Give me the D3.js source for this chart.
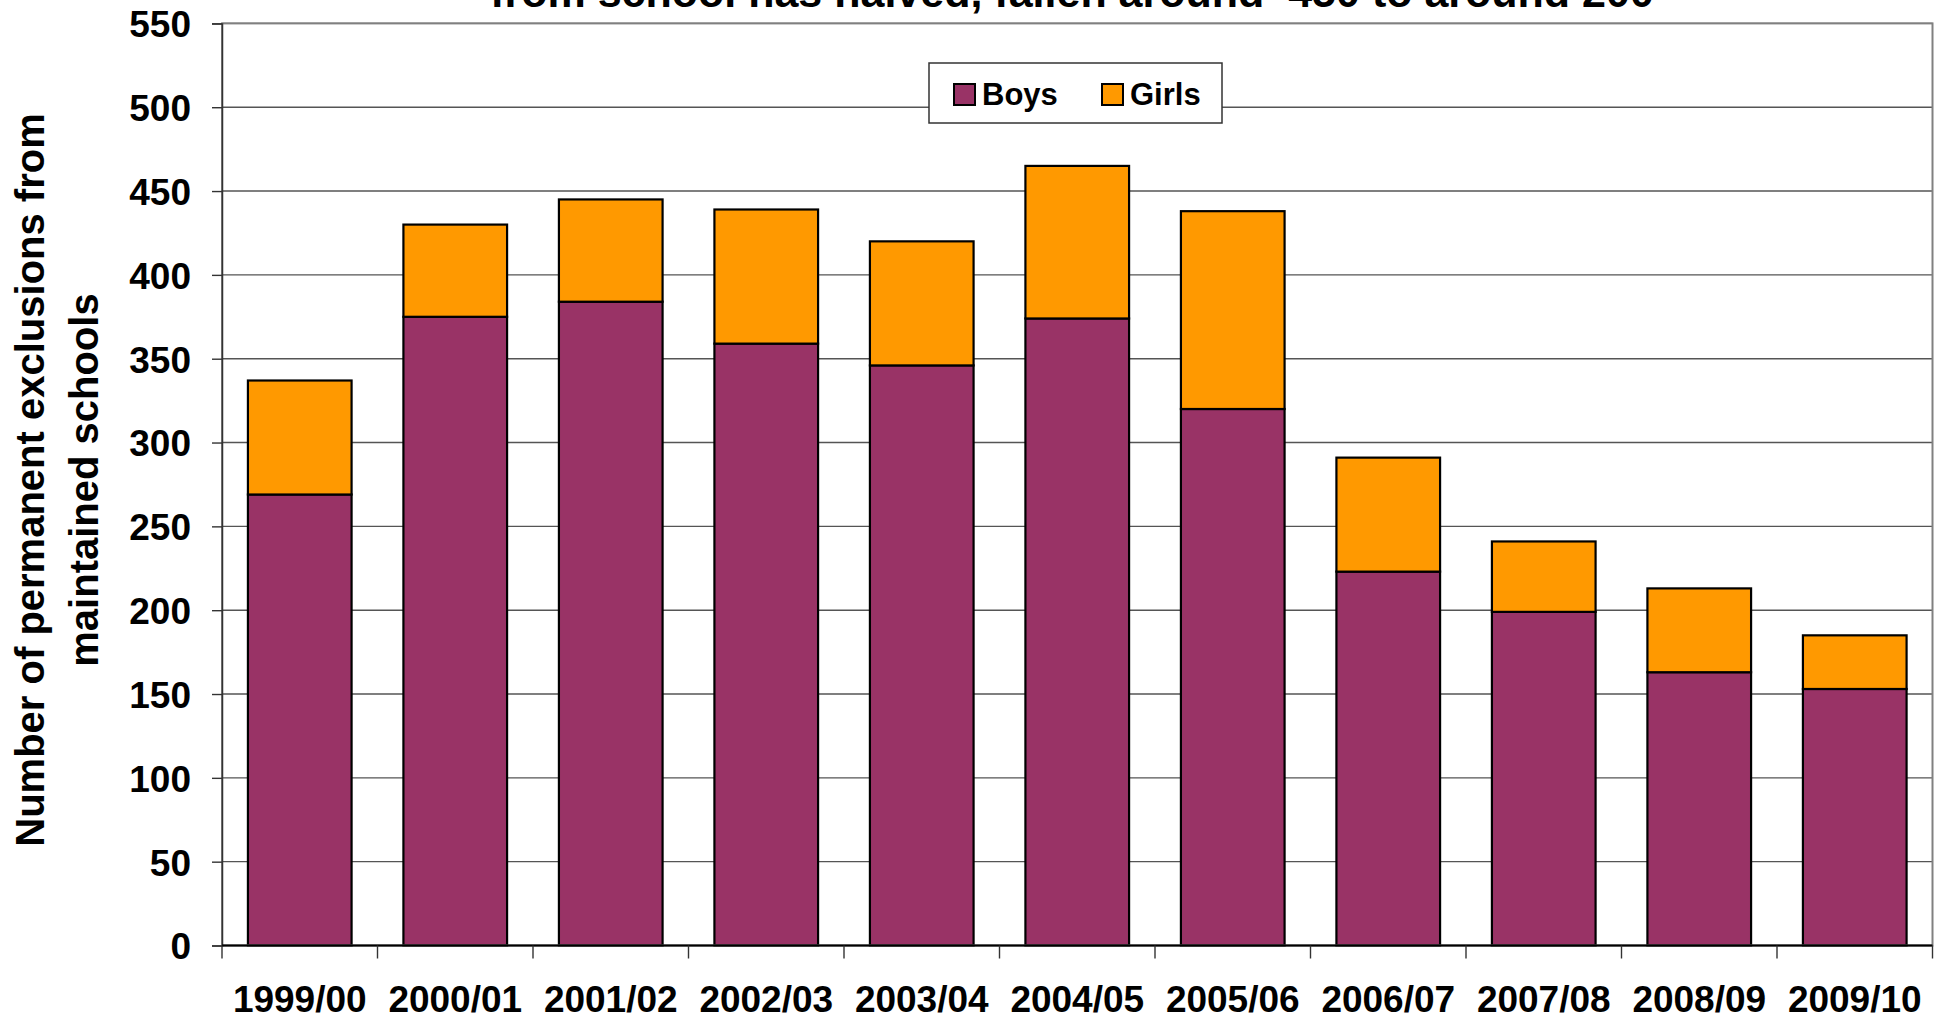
<!DOCTYPE html>
<html>
<head>
<meta charset="utf-8">
<script src="https://cdn.jsdelivr.net/npm/d3@7"></script>
<style>
  body { margin: 0; background: #fff; }
  svg text { font-family: "Liberation Sans", Arial, sans-serif; font-weight: bold; fill: #000; }
</style>
</head>
<body>
<div id="chart-area"></div>
<script>
var years = ["1999/00", "2000/01", "2001/02", "2002/03", "2003/04", "2004/05", "2005/06", "2006/07", "2007/08", "2008/09", "2009/10"]
var boys = [269, 375, 384, 359, 346, 374, 320, 223, 199, 163, 153]
var girls = [68, 55, 61, 80, 74, 91, 118, 68, 42, 50, 32]
var yTicks = [0, 50, 100, 150, 200, 250, 300, 350, 400, 450, 500, 550]
var seriesNames = ["Boys", "Girls"]
var seriesColors = ["#993366", "#FF9900"]

var canvasWidth = 1935
var canvasHeight = 1021
var margin = {top: 23.4, bottom: 75.5, left: 222, right: 2.5}

var svg = d3.select("#chart-area")
	.append("svg")
	.attr("width", canvasWidth)
	.attr("height", canvasHeight)

var x = d3.scaleBand()
	.domain(years)
	.range([margin.left, canvasWidth - margin.right])
	.paddingInner(1/3)
	.paddingOuter(1/6)

var y = d3.scaleLinear()
	.domain([0, 550])
	.range([canvasHeight - margin.bottom, margin.top])

var table = years.map(function(d, i){
	return {year: d, Boys: boys[i], Girls: girls[i]}
})
var stacked = d3.stack().keys(seriesNames)(table)

// title, only its lower part is inside the picture
svg.append("text")
	.attr("x", 1072)
	.attr("y", 7)
	.attr("text-anchor", "middle")
	.attr("font-size", "43px")
	.text("from school has halved, fallen around  450 to around 200")
	.attr("xml:space", "preserve")
	.style("white-space", "pre")

// gridlines
svg.append("g")
	.selectAll("line")
	.data(yTicks)
	.enter().append("line")
		.attr("x1", margin.left)
		.attr("x2", canvasWidth - margin.right)
		.attr("y1", function(d){ return y(d) })
		.attr("y2", function(d){ return y(d) })
		.attr("stroke", "#555")
		.attr("stroke-width", 1.4)

// bars
svg.append("g")
	.selectAll("g")
	.data(stacked)
	.enter().append("g")
		.attr("fill", function(d, i){ return seriesColors[i] })
	.selectAll("rect")
	.data(function(d){ return d })
	.enter().append("rect")
		.attr("x", function(d){ return x(d.data.year) })
		.attr("width", x.bandwidth())
		.attr("y", function(d){ return y(d[1]) })
		.attr("height", function(d){ return y(d[0]) - y(d[1]) })
		.attr("stroke", "#000")
		.attr("stroke-width", 2.2)

// plot area border
svg.append("rect")
	.attr("x", margin.left)
	.attr("y", margin.top)
	.attr("width", canvasWidth - margin.right - margin.left)
	.attr("height", y(0) - margin.top)
	.attr("fill", "none")
	.attr("stroke", "#808080")
	.attr("stroke-width", 2)

// y axis
var yAxis = d3.axisLeft(y)
	.tickValues(yTicks)
	.tickSize(10)
	.tickPadding(21)

svg.append("g")
	.attr("transform", "translate(" + margin.left + ",0)")
	.call(yAxis)
	.call(function(g){
		g.select(".domain").attr("stroke", "#333").attr("stroke-width", 1.5)
		g.selectAll(".tick line").attr("stroke", "#333").attr("stroke-width", 1.4)
		g.selectAll(".tick text").attr("font-size", "37px").attr("font-family", null).attr("dy", "0.36em")
	})

// x axis, ticks sit between categories
var bounds = d3.range(years.length + 1).map(function(i){
	return margin.left + i * x.step()
})

svg.append("line")
	.attr("x1", margin.left)
	.attr("x2", canvasWidth - margin.right)
	.attr("y1", y(0))
	.attr("y2", y(0))
	.attr("stroke", "#000")
	.attr("stroke-width", 2)

svg.append("g")
	.selectAll("line")
	.data(bounds)
	.enter().append("line")
		.attr("x1", function(d){ return d })
		.attr("x2", function(d){ return d })
		.attr("y1", y(0))
		.attr("y2", y(0) + 13)
		.attr("stroke", "#333")
		.attr("stroke-width", 1.4)

svg.append("g")
	.selectAll("text")
	.data(years)
	.enter().append("text")
		.attr("x", function(d){ return x(d) + x.bandwidth() / 2 })
		.attr("y", 1012)
		.attr("text-anchor", "middle")
		.attr("font-size", "37px")
		.text(function(d){ return d })

// y axis title
var titleLines = ["Number of permanent exclusions from", "maintained schools"]
var titleX = [44, 98]
svg.append("g")
	.selectAll("text")
	.data(titleLines)
	.enter().append("text")
		.attr("transform", function(d, i){ return "translate(" + titleX[i] + ",480) rotate(-90)" })
		.attr("text-anchor", "middle")
		.attr("font-size", "40px")
		.text(function(d){ return d })

// legend
var legend = svg.append("g")

legend.append("rect")
	.attr("x", 929)
	.attr("y", 63)
	.attr("width", 293)
	.attr("height", 60)
	.attr("fill", "#fff")
	.attr("stroke", "#333")
	.attr("stroke-width", 1.5)

var legendX = [954, 1102]
var items = legend.selectAll("g.item")
	.data(seriesNames)
	.enter().append("g")
		.attr("class", "item")
		.attr("transform", function(d, i){ return "translate(" + legendX[i] + ",84)" })

items.append("rect")
	.attr("width", 21)
	.attr("height", 21)
	.attr("fill", function(d, i){ return seriesColors[i] })
	.attr("stroke", "#000")
	.attr("stroke-width", 2)

items.append("text")
	.attr("x", 28)
	.attr("y", 21)
	.attr("font-size", "31px")
	.text(function(d){ return d })
</script>
</body>
</html>
